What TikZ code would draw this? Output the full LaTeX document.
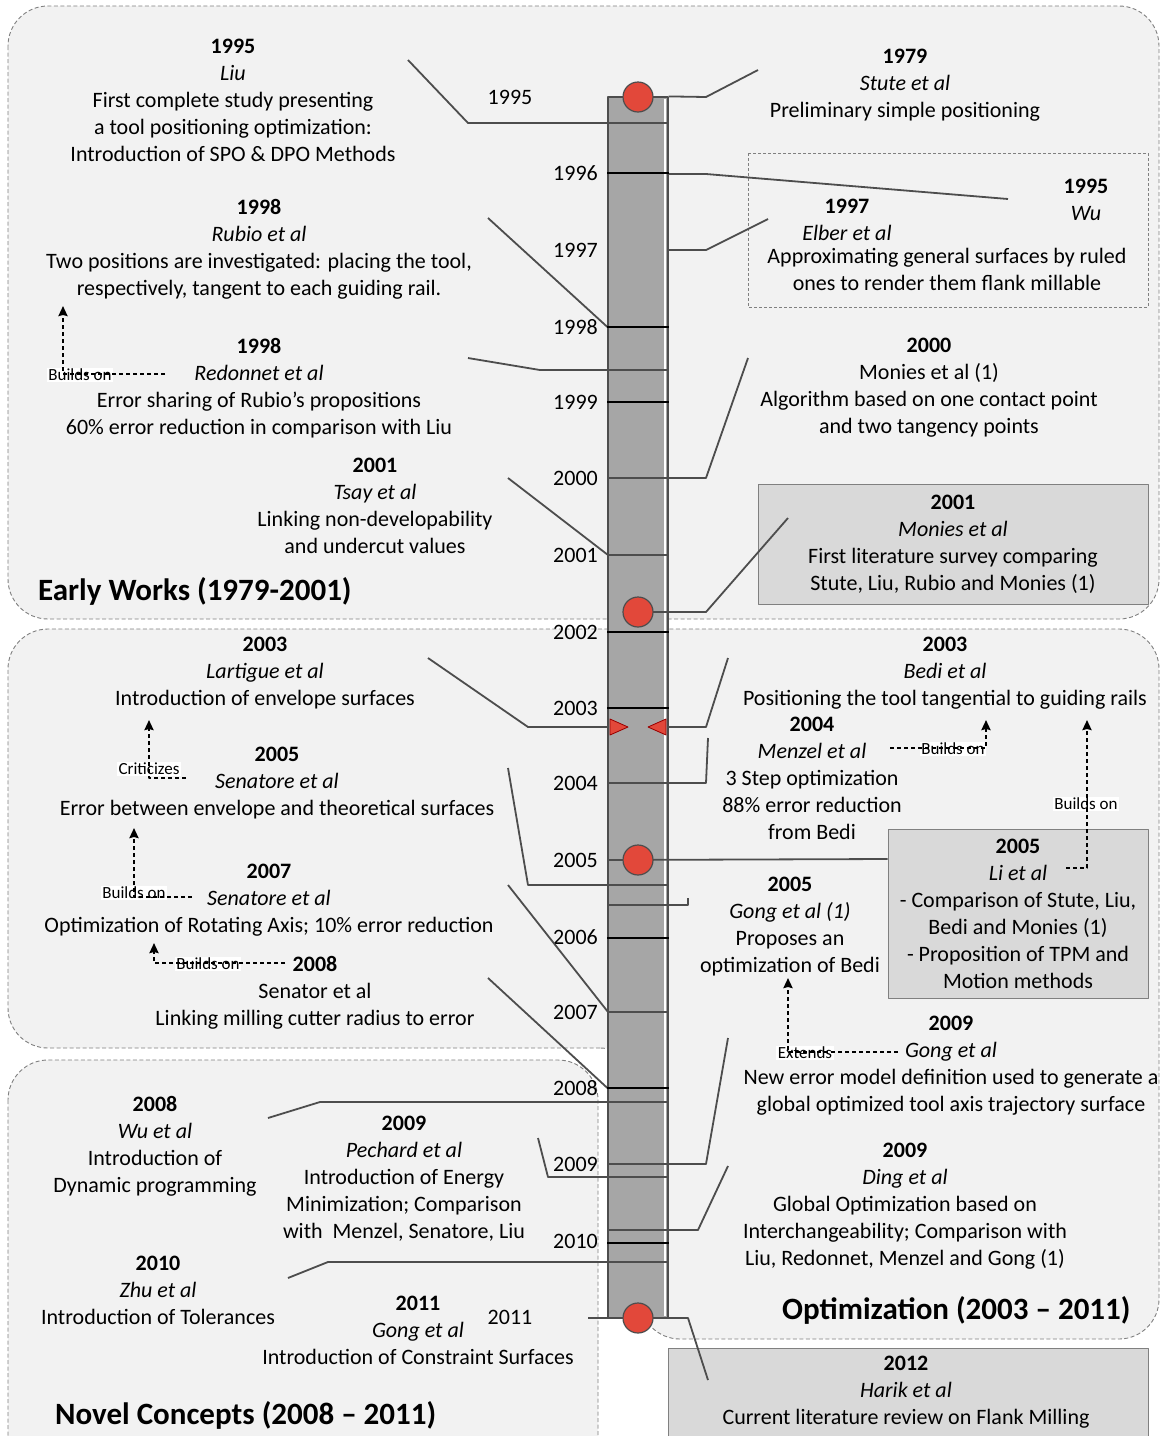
\documentclass[tikz,border=0pt]{standalone}
\usepackage{fontspec}
\setmainfont{Carlito}
\usetikzlibrary{arrows.meta}
\definecolor{regionfill}{HTML}{F2F2F2}
\definecolor{regionline}{HTML}{808080}
\definecolor{barfill}{HTML}{A6A6A6}
\definecolor{linkgray}{HTML}{4D4D4D}
\definecolor{boxfill}{HTML}{D9D9D9}
\definecolor{dotred}{HTML}{E2483A}
\tikzset{
  every picture/.style={line join=round, >=Stealth},
  region/.style={draw=regionline, fill=regionfill, dash pattern=on 4pt off 2.5pt, line width=0.9pt, rounded corners=40pt},
  entry/.style={align=center, inner sep=0pt, anchor=north, font=\fontsize{22}{27}\selectfont},
  yearlbl/.style={inner sep=0pt, font=\fontsize{22}{27}\selectfont},
  title/.style={inner sep=0pt, anchor=west, font=\fontsize{31}{36}\selectfont\bfseries},
  link/.style={draw=linkgray, line width=1.8pt},
  tick/.style={draw=black, line width=2.2pt},
  rel/.style={-{Stealth[length=10pt,width=9pt,inset=1pt]}, line width=2.2pt, dash pattern=on 4pt off 3pt},
  rellbl/.style={fill=white, inner sep=1.5pt, font=\fontsize{17}{19}\selectfont},
  dot/.style={circle, draw=linkgray, fill=dotred, line width=1.2pt, minimum size=30pt, inner sep=0pt},
  greybox/.style={draw=regionline, fill=boxfill, line width=1pt, align=center, inner sep=0pt, font=\fontsize{22}{27}\selectfont},
  dashbox/.style={draw=regionline, dash pattern=on 3pt off 2pt, line width=0.9pt},
  arrowhead/.style={fill=dotred, draw=red!60!black, line width=0.8pt},
}

\begin{document}
\begin{tikzpicture}[x=1pt,y=-1pt]
\useasboundingbox (0,0) rectangle (1161,1436);
\clip (0,0) rectangle (1161,1436);
\fill[white] (0,0) rectangle (1161,1436);

% periods
\path[region] (8,6) rectangle (1159,619);
\path[region] (640,1048) -- (8,1048) -- (8,629) -- (1159,629) -- (1159,1339) -- (640,1339) -- cycle;
\path[region] (8,1060) rectangle (598,1500);

% boxes
\draw[dashbox] (748,153) rectangle (1148,307);
\node[greybox, minimum width=390, minimum height=120] (moniesB) at (953,544)
  {\textbf{2001}\\\textit{Monies et al}\\First literature survey comparing\\Stute, Liu, Rubio and Monies (1)};
\node[greybox, minimum width=260, minimum height=169] (li) at (1018,913.5)
  {\textbf{2005}\\\textit{Li et al}\\- Comparison of Stute, Liu,\\Bedi and Monies (1)\\- Proposition of TPM and\\Motion methods};
\draw[greybox] (668,1348) rectangle (1148,1460);

% timeline
\node[draw=linkgray, fill=barfill, line width=1.2pt, minimum width=60, minimum height=1221, inner sep=0pt] (bar) at (638,707.5) {};
\draw[white, line width=1.2pt] (665,99) -- (665,1316);

\node[yearlbl] (y1995) at (510,97) {1995};
\node[yearlbl] (y2011) at (510,1317) {2011};
\foreach \yr/\yy in {1996/173,1997/250,1998/327,1999/402,2000/478,2001/555,2002/632,2003/708,2004/783,2005/860,2006/937,2007/1012,2008/1088,2009/1164,2010/1241}
  \node[yearlbl, anchor=east] (y\yr) at (598,\yy) {\yr};

% connectors
\coordinate (c-liu) at (408,60);
\coordinate (c-stute) at (758,70);
\coordinate (c-wu) at (1008,199);
\coordinate (c-elber) at (768,219);
\coordinate (c-rubio) at (488,218);
\coordinate (c-redonnet) at (468,358);
\coordinate (c-moniesA) at (748,358);
\coordinate (c-tsay) at (508,478);
\coordinate (c-moniesB) at (788,518);
\coordinate (c-lartigue) at (428,658);
\coordinate (c-bedi) at (728,658);
\coordinate (c-menzel) at (708,738);
\coordinate (c-senatoreA) at (508,768);
\coordinate (c-gongA) at (688,898);
\coordinate (c-senatoreB) at (508,885);
\coordinate (c-senator) at (488,978);
\coordinate (c-gongB) at (728,1038);
\coordinate (c-wuB) at (268,1118);
\coordinate (c-pechard) at (538,1138);
\coordinate (c-ding) at (728,1166);
\coordinate (c-zhu) at (288,1278);
\coordinate (c-harik) at (708,1380);
\coordinate (c-gongC) at (588,1318);

\draw[link] (c-liu) -- (468,123) -- (bar.east |- 0,123);
\draw[link] (c-stute) -- (706,97) -- (bar.north east);
\draw[link] (c-wu) -- (706,174) -- (bar.east |- 0,174);
\draw[link] (c-elber) -- (706,250) -- (bar.east |- 0,250);
\draw[link] (c-rubio) -- (bar.west |- 0,327);
\draw[link] (c-redonnet) -- (540,370) -- (bar.east |- 0,370);
\draw[link] (c-moniesA) -- (706,478) -- (bar.west |- 0,478);
\draw[link] (c-tsay) -- (608,555) -- (bar.east |- 0,555);
\draw[link] (c-moniesB) -- (706,612) -- (638,612);
\draw[link] (c-lartigue) -- (528,727) -- (bar.west |- 0,727);
\draw[link] (c-bedi) -- (706,727) -- (bar.east |- 0,727);
\draw[link] (c-menzel) -- (706,783) -- (bar.west |- 0,783);
\draw[link] (c-senatoreA) -- (528,885) -- (bar.east |- 0,885);
\draw[link] (li.west |- 0,859) -- (bar.west |- 0,860);
\draw[link] (c-gongA) -- (688,905) -- (bar.west |- 0,905);
\draw[link] (c-senatoreB) -- (608,1012) -- (bar.east |- 0,1012);
\draw[link] (c-senator) -- (bar.west |- 0,1088);
\draw[link] (c-gongB) -- (706,1164) -- (bar.west |- 0,1164);
\draw[link] (c-wuB) -- (320,1102) -- (bar.east |- 0,1102);
\draw[link] (c-pechard) -- (548,1177) -- (bar.east |- 0,1177);
\draw[link] (c-ding) -- (698,1230) -- (bar.west |- 0,1230);
\draw[link] (c-zhu) -- (328,1262) -- (bar.east |- 0,1262);
\draw[link] (c-harik) -- (688,1318) -- (c-gongC);

\foreach \ty in {173,327,402,632,708,938,1088,1243}
  \draw[tick] (bar.west |- 0,\ty) -- (bar.east |- 0,\ty);

% milestones
\node[dot] (d1995) at (638,97) {};
\node[dot] (d2001) at (638,612) {};
\node[dot] (d2005) at (638,860) {};
\node[dot] (d2011) at (638,1318) {};
\path[arrowhead] (610,719) -- (628,727) -- (610,735) -- cycle;
\path[arrowhead] (666,719) -- (648,727) -- (666,735) -- cycle;

% works
\node[entry] (liu) at (233,39) {\textbf{1995}\\\textit{Liu}\\First complete study presenting\\a tool positioning optimization:\\Introduction of SPO \& DPO Methods};
\node[entry] (stute) at (905,49) {\textbf{1979}\\\textit{Stute et al}\\Preliminary simple positioning};
\node[entry] (wu) at (1086,179) {\textbf{1995}\\\textit{Wu}};
\node[entry] (elber) at (847,199) {\textbf{1997}\\\textit{Elber et al}};
\node[entry] (elberdesc) at (947,248) {Approximating general surfaces by ruled\\ones to render them flank millable};
\node[entry] (rubio) at (259,199) {\textbf{1998}\\\textit{Rubio et al}\\Two positions are investigated: placing the tool,\\respectively, tangent to each guiding rail.};
\node[entry] (redonnet) at (259,338) {\textbf{1998}\\\textit{Redonnet et al}\\Error sharing of Rubio’s propositions\\60\% error reduction in comparison with Liu};
\node[entry] (moniesA) at (929,338) {\textbf{2000}\\Monies et al (1)\\Algorithm based on one contact point\\and two tangency points};
\node[entry] (tsay) at (375,458) {\textbf{2001}\\\textit{Tsay et al}\\Linking non-developability\\and undercut values};
\node[entry] (lartigue) at (265,637) {\textbf{2003}\\\textit{Lartigue et al}\\Introduction of envelope surfaces};
\node[entry] (bedi) at (945,637) {\textbf{2003}\\\textit{Bedi et al}\\Positioning the tool tangential to guiding rails};
\node[entry] (menzel) at (812,717) {\textbf{2004}\\\textit{Menzel et al}\\3 Step optimization\\88\% error reduction\\from Bedi};
\node[entry] (senatoreA) at (277,747) {\textbf{2005}\\\textit{Senatore et al}\\Error between envelope and theoretical surfaces};
\node[entry] (gongA) at (790,877) {\textbf{2005}\\\textit{Gong et al (1)}\\Proposes an\\optimization of Bedi};
\node[entry] (senatoreB) at (269,864) {\textbf{2007}\\\textit{Senatore et al}\\Optimization of Rotating Axis; 10\% error reduction};
\node[entry] (senator) at (315,956) {\textbf{2008}\\Senator et al\\Linking milling cutter radius to error};
\node[entry] (gongB) at (951,1016) {\textbf{2009}\\\textit{Gong et al}\\New error model definition used to generate a\\global optimized tool axis trajectory surface};
\node[entry] (wuB) at (155,1096) {\textbf{2008}\\\textit{Wu et al}\\Introduction of\\Dynamic programming};
\node[entry] (pechard) at (404,1116) {\textbf{2009}\\\textit{Pechard et al}\\Introduction of Energy\\Minimization; Comparison\\with~ Menzel, Senatore, Liu};
\node[entry] (ding) at (905,1143) {\textbf{2009}\\\textit{Ding et al}\\Global Optimization based on\\Interchangeability; Comparison with\\Liu, Redonnet, Menzel and Gong (1)};
\node[entry] (zhu) at (158,1256) {\textbf{2010}\\\textit{Zhu et al}\\Introduction of Tolerances};
\node[entry] (gongC) at (418,1296) {\textbf{2011}\\\textit{Gong et al}\\Introduction of Constraint Surfaces};
\node[entry] (harik) at (906,1356) {\textbf{2012}\\\textit{Harik et al}\\Current literature review on Flank Milling};

% period titles
\node[title] (early) at (38,591) {Early Works (1979-2001)};
\node[title] (optim) at (782,1310) {Optimization (2003 – 2011)};
\node[title] (novel) at (55,1415) {Novel Concepts (2008 – 2011)};

% relations
\node[rellbl] (r1) at (80,375) {Builds on};
\node[rellbl] (r2) at (149,769) {Criticizes};
\node[rellbl] (r3) at (134,893) {Builds on};
\node[rellbl] (r4) at (208,964) {Builds on};
\node[rellbl] (r5) at (953,749) {Builds on};
\node[rellbl] (r6) at (1086,804) {Builds on};
\node[rellbl] (r7) at (805,1053) {Extends};
\coordinate (redonnet-in) at (165,374);
\coordinate (rubio-out) at (63,306);
\coordinate (senatoreA-in) at (186,778);
\coordinate (lartigue-out) at (149,720);
\coordinate (senatoreB-in) at (192,897);
\coordinate (senatoreA-out) at (134,828);
\coordinate (senator-in) at (285,963);
\coordinate (senatoreB-out) at (154,943);
\coordinate (menzel-in) at (890,748);
\coordinate (bedi-outA) at (986,720);
\coordinate (li-in) at (1066,868);
\coordinate (bedi-outB) at (1087,720);
\coordinate (gongB-in) at (898,1052);
\coordinate (gongA-out) at (788,978);
\draw[rel] (redonnet-in) -| (rubio-out);
\draw[rel] (senatoreA-in) -| (lartigue-out);
\draw[rel] (senatoreB-in) -| (senatoreA-out);
\draw[rel] (senator-in) -| (senatoreB-out);
\draw[rel] (menzel-in) -| (bedi-outA);
\draw[rel] (li-in) -| (bedi-outB);
\draw[rel] (gongB-in) -| (gongA-out);
\end{tikzpicture}
\end{document}
